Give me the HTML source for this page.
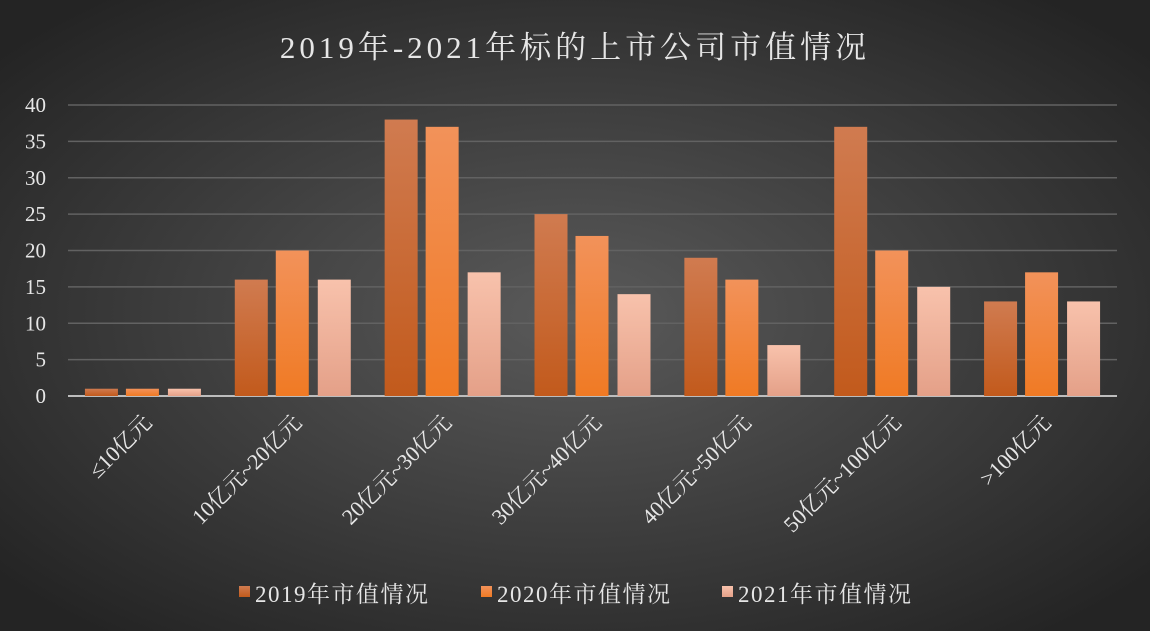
<!DOCTYPE html>
<html><head><meta charset="utf-8"><style>
body{margin:0;width:1150px;height:631px;overflow:hidden;background:#2a2a2a}
svg{display:block}
text{font-family:"Liberation Serif","Noto Serif CJK SC",serif;fill:#e6e6e6}
</style></head><body>
<svg id="c" width="1150" height="631">
<defs>
<radialGradient id="bg" cx="50%" cy="50%" r="65%"><stop offset="0" stop-color="#5a5a5a"/><stop offset="1" stop-color="#242424"/></radialGradient>
<linearGradient id="g0" x1="0" y1="0" x2="0" y2="1"><stop offset="0" stop-color="#d07b50"/><stop offset="1" stop-color="#c25a1c"/></linearGradient>
<linearGradient id="g1" x1="0" y1="0" x2="0" y2="1"><stop offset="0" stop-color="#f2925a"/><stop offset="1" stop-color="#f07a24"/></linearGradient>
<linearGradient id="g2" x1="0" y1="0" x2="0" y2="1"><stop offset="0" stop-color="#f8c2ac"/><stop offset="1" stop-color="#e4a088"/></linearGradient>
</defs>
<rect width="1150" height="631" fill="url(#bg)"/>
<text x="575" y="58" text-anchor="middle" font-size="31" style="letter-spacing:4px">2019年-2021年标的上市公司市值情况</text>
<g id="grid"></g><g id="bars"></g><g id="xl"></g>
<g>
<rect x="239" y="586" width="11" height="11" fill="url(#g0)"/>
<text x="255" y="602" font-size="23" style="letter-spacing:1.5px">2019年市值情况</text>
<rect x="481" y="586" width="11" height="11" fill="url(#g1)"/>
<text x="497" y="602" font-size="23" style="letter-spacing:1.5px">2020年市值情况</text>
<rect x="722" y="586" width="11" height="11" fill="url(#g2)"/>
<text x="738" y="602" font-size="23" style="letter-spacing:1.5px">2021年市值情况</text>
</g>
</svg>
<script>
const categories=["≤10亿元","10亿元~20亿元","20亿元~30亿元","30亿元~40亿元","40亿元~50亿元","50亿元~100亿元",">100亿元"];
const s2019=[1,16,38,25,19,37,13];
const s2020=[1,20,37,22,16,20,17];
const s2021=[1,16,17,14,7,15,13];
const yTicks=[0,5,10,15,20,25,30,35,40];
const NS="http://www.w3.org/2000/svg";
const x0=68,x1=1117,y0=396,y1=105,yMax=40;
const y=v=>y0-(v/yMax)*(y0-y1);
const bw=(x1-x0)/categories.length;
const cx=i=>x0+bw*(i+0.5);
function mk(t,a,p){const e=document.createElementNS(NS,t);for(const k in a)e.setAttribute(k,a[k]);p.appendChild(e);return e;}
const grid=document.getElementById('grid'),bars=document.getElementById('bars'),xl=document.getElementById('xl');
yTicks.forEach(v=>{
 const l=mk('line',{x1:x0,x2:x1,y1:y(v),y2:y(v),stroke:v===0?'#bdbdbd':'#626262','stroke-width':v===0?2:1.5},grid);
 
 
 const t=mk('text',{x:46,y:y(v)+7,'text-anchor':'end','font-size':21},grid);
 t.textContent=v;
 
 
});
const series=[s2019,s2020,s2021],offs=[-58,-17,25],names=['2019','2020','2021'];
categories.forEach((c,i)=>{
 series.forEach((s,j)=>{
  const r=mk('rect',{x:cx(i)+offs[j],y:y(s[i]),width:33,height:y0-y(s[i]),fill:'url(#g'+j+')'},bars);
  
  
 });
 const t=mk('text',{x:0,y:0,'text-anchor':'end','font-size':22,transform:'translate('+(cx(i)+10)+',424) rotate(-45)'},xl);
 t.textContent=c;
 
 
});
</script>
</body></html>
